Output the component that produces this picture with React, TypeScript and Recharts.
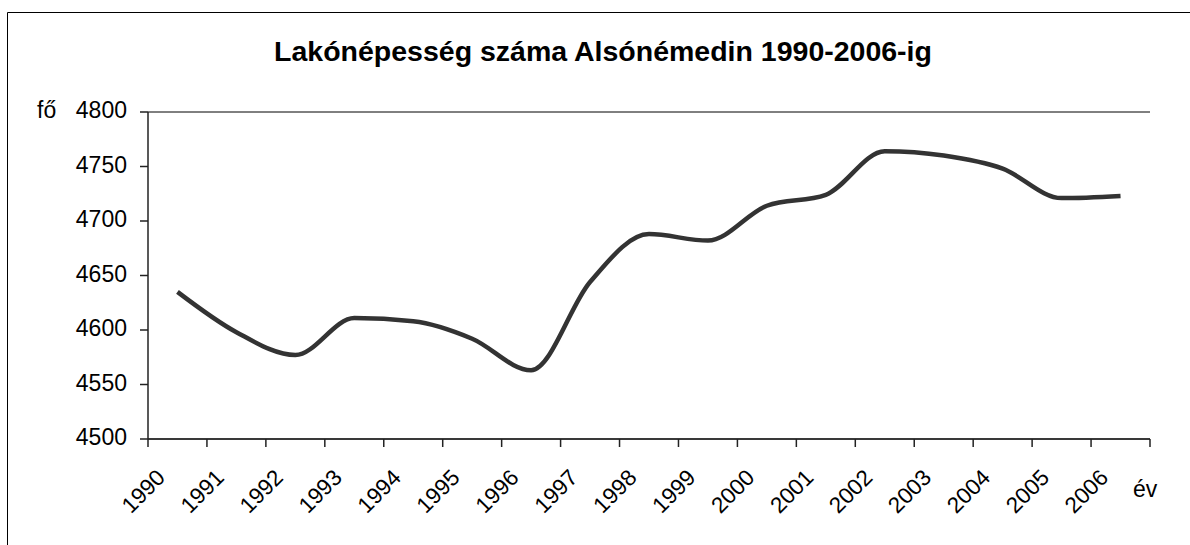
import React from 'react';
import { CartesianGrid, Line, LineChart, XAxis, YAxis } from 'recharts';

// data
const years = [
  '1990', '1991', '1992', '1993', '1994', '1995', '1996', '1997', '1998',
  '1999', '2000', '2001', '2002', '2003', '2004', '2005', '2006',
];
const population = [
  4635, 4598, 4577, 4611, 4608, 4592, 4563, 4644, 4688,
  4682, 4714, 4724, 4764, 4760, 4748, 4721, 4723,
];
const yTicks = [4500, 4550, 4600, 4650, 4700, 4750, 4800];

const title = 'Lakónépesség száma Alsónémedin 1990-2006-ig';
const yUnit = 'fő';
const xUnit = 'év';

const W = 1190;
const H = 545;
const PLOT_LEFT = 148;
const PLOT_RIGHT = 1150;
const PLOT_TOP = 112;
const PLOT_BOTTOM = 439;
const FONT = '"Liberation Sans", Arial, sans-serif';

// points sit in the middle of each category, ticks between categories
const data = years.map((year, i) => ({ year, pos: i + 0.5, value: population[i] }));
const boundaryTicks = Array.from({ length: years.length + 1 }, (_, i) => i);

const YearTick = (props: any) => {
  const { x, y, payload } = props;
  const i = payload.value as number;
  if (i >= years.length) return <g />;
  const half = (PLOT_RIGHT - PLOT_LEFT) / years.length / 2;
  const ax = x + half - 11;
  const ay = y + 30;
  return (
    <text
      x={ax}
      y={ay}
      transform={`rotate(-45, ${ax}, ${ay})`}
      textAnchor="end"
      fontSize={22.5}
      fontFamily={FONT}
      fill="#000"
    >
      {years[i]}
    </text>
  );
};

const App = () => {
  return (
    <div style={{ position: 'absolute', left: 0, top: 0, width: W, height: H, background: '#fff' }}>
      <LineChart
        width={W}
        height={H}
        data={data}
        margin={{ top: PLOT_TOP, right: W - PLOT_RIGHT, bottom: 0, left: 0 }}
      >
        <CartesianGrid vertical={false} stroke="#000" strokeWidth={1} />
        <XAxis
          dataKey="pos"
          type="number"
          domain={[0, years.length]}
          ticks={boundaryTicks}
          interval={0}
          height={H - PLOT_BOTTOM}
          tickSize={8}
          axisLine={{ stroke: '#222', strokeWidth: 1.5 }}
          tickLine={{ stroke: '#222', strokeWidth: 1.5 }}
          tick={<YearTick />}
        />
        <YAxis
          yAxisId="left"
          domain={[4500, 4800]}
          ticks={yTicks}
          interval={0}
          width={PLOT_LEFT}
          tickSize={8}
          tickMargin={13}
          axisLine={{ stroke: '#222', strokeWidth: 1.5 }}
          tickLine={{ stroke: '#222', strokeWidth: 1.5 }}
          tick={{ fill: '#000', fontSize: 23, fontFamily: FONT, dy: -2 }}
        />
        <YAxis
          yAxisId="right"
          orientation="right"
          domain={[4500, 4800]}
          width={0}
          tick={false}
          tickLine={false}
          axisLine={{ stroke: '#222', strokeWidth: 1.5 }}
        />
        <Line
          yAxisId="left"
          type="monotone"
          dataKey="value"
          stroke="#333333"
          strokeWidth={4.5}
          dot={false}
          isAnimationActive={false}
        />
      </LineChart>
      {/* outer frame, title and unit labels */}
      <svg
        width={W}
        height={H}
        style={{ position: 'absolute', left: 0, top: 0, pointerEvents: 'none' }}
      >
        <line x1={7.5} y1={12.5} x2={W} y2={12.5} stroke="#000" strokeWidth={1} />
        <line x1={7.5} y1={12.5} x2={7.5} y2={H} stroke="#000" strokeWidth={1} />
        <text x={603} y={61} textAnchor="middle" fontSize={28.5} fontWeight="bold" fontFamily={FONT} fill="#000">
          {title}
        </text>
        <text x={37} y={118} fontSize={23} fontFamily={FONT} fill="#000">
          {yUnit}
        </text>
        <text x={1133} y={497} fontSize={23} fontFamily={FONT} fill="#000">
          {xUnit}
        </text>
      </svg>
    </div>
  );
};

export default App;
